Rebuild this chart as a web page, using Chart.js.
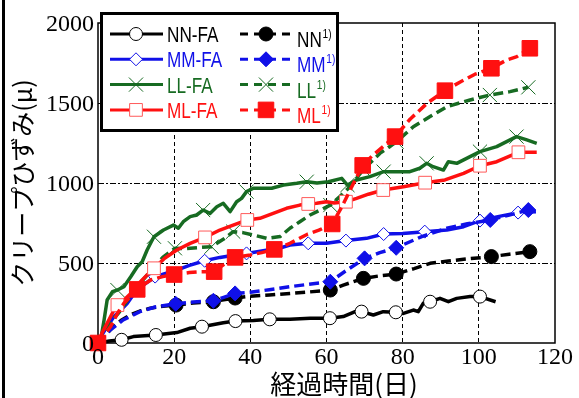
<!DOCTYPE html>
<html>
<head>
<meta charset="utf-8">
<script src="https://cdn.jsdelivr.net/npm/chart.js@4.4.1/dist/chart.umd.min.js"></script>
<style>
  html, body { margin: 0; padding: 0; background: #fff; }
</style>
</head>
<body>
<canvas id="creepChart" width="579" height="398"></canvas>
<script>
// axis ticks and titles
const xTicks = [0, 20, 40, 60, 80, 100, 120];
const yTicks = [0, 500, 1000, 1500, 2000];
const xTitle = '経過時間(日)';
const yTitle = 'クリープひずみ(μ)';

// NN-FA (solid, open circles)
const nnFaDays = [0, 3, 6.2, 9.3, 15.2, 20.7, 24.2, 27.3, 32.9, 36.1, 40.8, 45.1, 50.4, 55.7, 60.9, 64.4, 67.5, 69.2, 72.3, 74.9, 78.2, 80.2, 82.8, 84.1, 85.4, 87.2, 89.8, 92, 94.2, 97.7, 100.3, 104.4];
const nnFaVals = [0, 12, 20, 40, 50, 65, 92, 102, 127, 137, 140, 148, 148, 154, 155, 165, 196, 196, 175, 196, 192, 185, 206, 196, 248, 258, 279, 258, 279, 290, 290, 258];
const nnFaMarks = [2, 4, 7, 9, 11, 14, 17, 20, 25, 30];

// NN 1) (dashed, filled circles)
const nnDays = [0, 2, 4, 6, 8.4, 11, 13.7, 17, 20.5, 25, 30.3, 33, 36, 40, 45, 50.4, 55, 61, 64.4, 69.7, 74, 78.3, 83, 87.2, 92, 96, 103.3, 108, 113.4];
const nnVals = [0, 50, 102, 140, 175, 200, 217, 230, 237, 250, 258, 270, 281, 292, 300, 310, 318, 331, 362, 404, 420, 431, 465, 498, 512, 523, 540, 555, 571];
const nnMarks = [8, 10, 12, 17, 19, 21, 26, 28];

// MM-FA (solid, open diamonds)
const mmFaDays = [0, 1, 2.4, 4.2, 6, 7.7, 9.5, 11.2, 13.8, 15, 20.7, 24, 28, 32, 36, 39, 43, 48, 50.4, 55.2, 60, 65.1, 70.5, 75, 80, 85.8, 91.6, 96, 100.3, 105, 110.3, 115];
const mmFaVals = [0, 50, 102, 165, 206, 248, 310, 352, 394, 415, 456, 485, 514, 535, 550, 560, 575, 595, 612, 623, 623, 640, 654, 681, 685, 696, 706, 727, 765, 790, 815, 821];
const mmFaMarks = [9, 12, 15, 19, 21, 23, 25, 28, 30];

// MM 1) (dashed, filled diamonds)
const mmDays = [0, 1.5, 3.2, 6.6, 11, 15, 20.4, 25, 30.3, 33, 36, 40, 45, 50.4, 55, 61, 65, 70, 74, 78.3, 85, 91.6, 97, 103, 108, 113];
const mmVals = [0, 40, 81, 144, 196, 225, 245, 256, 264, 285, 310, 317, 333, 352, 366, 383, 450, 529, 565, 595, 665, 717, 745, 769, 800, 831];
const mmMarks = [6, 8, 10, 15, 17, 19, 23, 25];

// LL-FA (solid, x marks)
const llFaDays = [0, 0.7, 1.6, 2.4, 3.8, 5.1, 6.8, 8.6, 10.3, 11.6, 12.9, 13.8, 14.7, 17.2, 19.8, 21.1, 22.4, 24.2, 25.9, 27.6, 29.4, 31.2, 32.9, 34.7, 36.4, 37.7, 39, 40.8, 45.6, 48.7, 52.2, 54.8, 57.5, 60.5, 64, 65.5, 67.9, 71.4, 75, 78.4, 81.9, 84.5, 86.3, 88, 90.7, 92, 94.2, 97.7, 100.3, 104.7, 109.9, 112.6, 115.2];
const llFaVals = [0, 19, 144, 269, 321, 331, 352, 414, 477, 508, 581, 623, 664, 706, 737, 717, 758, 790, 800, 831, 810, 852, 873, 821, 883, 904, 946, 967, 967, 987, 998, 1008, 1000, 1008, 1029, 987, 1019, 1040, 1071, 1071, 1071, 1092, 1123, 1102, 1081, 1133, 1123, 1165, 1196, 1227, 1290, 1269, 1248];
const llFaMarks = [5, 12, 19, 26, 31, 35, 38, 42, 48, 50];

// LL 1) (dashed, x marks)
const llDays = [0, 2.4, 3.8, 5.5, 7.5, 9.5, 12, 14.5, 17, 20.2, 23, 26, 29.8, 33, 35.5, 38, 40.8, 44.3, 47.8, 50.4, 53, 55.7, 61, 63.5, 66.2, 69.7, 74, 78.4, 82.8, 87.2, 91.6, 97.7, 102.9, 108.2, 113];
const llVals = [0, 81, 144, 190, 260, 330, 400, 470, 535, 592, 590, 596, 602, 650, 696, 690, 675, 654, 665, 717, 758, 800, 862, 915, 977, 1085, 1185, 1258, 1352, 1415, 1477, 1519, 1550, 1571, 1598];
const llMarks = [9, 12, 14, 22, 25, 27, 32, 34];

// ML-FA (solid, open squares)
const mlFaDays = [0, 1, 2.4, 4.2, 5.1, 6.8, 8.6, 10.3, 12.9, 14.7, 17.5, 20.7, 24.2, 28.1, 32, 35.5, 39.2, 42.5, 46, 49.5, 53, 55.2, 57.4, 60, 62, 65.1, 67.9, 71, 74.9, 80.2, 85.9, 91.1, 96, 100.3, 104.7, 110.4, 115.2];
const mlFaVals = [0, 60, 123, 206, 237, 269, 310, 362, 425, 467, 530, 581, 623, 660, 706, 737, 769, 779, 810, 842, 862, 869, 873, 883, 875, 883, 904, 930, 956, 977, 1002, 1019, 1060, 1108, 1133, 1192, 1192];
const mlFaMarks = [4, 9, 13, 16, 21, 25, 28, 30, 33, 35];

// ML 1) (dashed, filled squares)
const mlDays = [0, 3.3, 5.1, 6.8, 8.6, 10.3, 13.8, 17, 20, 24, 27, 30.5, 33, 36, 40, 43, 46.3, 50.4, 55, 58, 61.5, 64, 66.5, 69.5, 72, 75, 78, 82, 86.5, 91.1, 95, 99, 103.3, 107.3, 110, 113.4];
const mlVals = [0, 102, 185, 248, 290, 335, 394, 415, 428, 440, 445, 446, 490, 535, 550, 565, 585, 623, 680, 705, 744, 850, 970, 1110, 1170, 1230, 1290, 1400, 1500, 1577, 1630, 1680, 1717, 1769, 1790, 1842];
const mlMarks = [0, 5, 8, 11, 13, 16, 20, 23, 26, 29, 32, 35];

const BLACK = '#000000';
const BLUE = '#1010e8';
const GREEN = '#176b22';
const RED = '#ff1010';
const DASH = [10, 5];
const SERIF = '"Liberation Serif", "Times New Roman", serif';
const GOTHIC = '"Noto Sans CJK JP", sans-serif';

function pts(days, vals) {
    return days.map((d, i) => ({ x: d, y: vals[i] }));
}

function series(label, days, vals, marks, o) {
    return {
        label: label,
        data: pts(days, vals),
        marks: marks,
        markR: o.r,
        borderColor: o.color,
        backgroundColor: o.color,
        borderWidth: 3.5,
        borderDash: o.dash ? DASH : [],
        borderJoinStyle: 'round',
        borderCapStyle: 'butt',
        tension: 0,
        pointStyle: o.style,
        pointBackgroundColor: o.fill,
        pointBorderColor: o.stroke || o.color,
        pointBorderWidth: o.pw || 1,
        pointRadius: c => c.dataset.marks.includes(c.dataIndex) ? c.dataset.markR : 0,
        pointHoverRadius: 0,
        clip: false,
        row: o.row,
        col: o.dash ? 1 : 0,
        sup: o.dash,
    };
}

// first in the list is drawn on top
const datasets = [
    series('ML', mlDays, mlVals, mlMarks, { color: RED, fill: RED, style: 'rect', r: 11, dash: true, row: 3 }),
    series('ML-FA', mlFaDays, mlFaVals, mlFaMarks, { color: RED, fill: '#ffffff', stroke: '#ff5a5a', style: 'rect', r: 9, row: 3 }),
    series('LL', llDays, llVals, llMarks, { color: GREEN, fill: GREEN, style: 'crossRot', r: 10, dash: true, row: 2 }),
    series('LL-FA', llFaDays, llFaVals, llFaMarks, { color: GREEN, fill: GREEN, style: 'crossRot', r: 10, row: 2 }),
    series('MM', mmDays, mmVals, mmMarks, { color: BLUE, fill: BLUE, style: 'rectRot', r: 7.5, dash: true, row: 1 }),
    series('MM-FA', mmFaDays, mmFaVals, mmFaMarks, { color: BLUE, fill: '#ffffff', style: 'rectRot', r: 6.5, row: 1 }),
    series('NN', nnDays, nnVals, nnMarks, { color: BLACK, fill: BLACK, style: 'circle', r: 7, dash: true, row: 0 }),
    series('NN-FA', nnFaDays, nnFaVals, nnFaMarks, { color: BLACK, fill: '#ffffff', style: 'circle', r: 6.5, row: 0 }),
];

function drawMark(ctx, ds, x, y) {
    const r = ds.markR;
    ctx.save();
    ctx.setLineDash([]);
    ctx.fillStyle = ds.pointBackgroundColor;
    ctx.strokeStyle = ds.pointBorderColor;
    ctx.lineWidth = ds.pointBorderWidth;
    ctx.beginPath();
    if (ds.pointStyle === 'circle') {
        ctx.arc(x, y, r, 0, Math.PI * 2);
        ctx.fill(); ctx.stroke();
    } else if (ds.pointStyle === 'rect') {
        const s = r * Math.SQRT1_2;
        ctx.rect(x - s, y - s, 2 * s, 2 * s);
        ctx.fill(); ctx.stroke();
    } else if (ds.pointStyle === 'rectRot') {
        ctx.moveTo(x, y - r); ctx.lineTo(x + r, y); ctx.lineTo(x, y + r); ctx.lineTo(x - r, y);
        ctx.closePath();
        ctx.fill(); ctx.stroke();
    } else {
        const s = r * Math.SQRT1_2;
        ctx.moveTo(x - s, y - s); ctx.lineTo(x + s, y + s);
        ctx.moveTo(x + s, y - s); ctx.lineTo(x - s, y + s);
        ctx.stroke();
    }
    ctx.restore();
}

const framePlugin = {
    id: 'frame',
    beforeDatasetsDraw(chart) {
        const { ctx, chartArea: a } = chart;
        ctx.save();
        ctx.strokeStyle = '#000';
        ctx.lineWidth = 1.5;
        ctx.strokeRect(a.left, a.top, a.right - a.left, a.bottom - a.top);
        ctx.restore();
    },
    afterDraw(chart) {
        const ctx = chart.ctx;
        const a = chart.chartArea;
        const sx = chart.scales.x;
        const sy = chart.scales.y;
        ctx.save();

        // tick labels (serif, placed by the scales)
        ctx.fillStyle = '#000';
        ctx.font = '24px ' + SERIF;
        ctx.textBaseline = 'alphabetic';
        ctx.textAlign = 'center';
        xTicks.forEach(v => ctx.fillText(String(v), sx.getPixelForValue(v), a.bottom + 21));
        ctx.textAlign = 'right';
        yTicks.forEach(v => ctx.fillText(String(v), a.left - 4, sy.getPixelForValue(v) + 8));

        // axis titles
        ctx.font = '26px ' + GOTHIC;
        ctx.textAlign = 'center';
        ctx.textBaseline = 'middle';
        ctx.fillText(xTitle, 344, 384);
        ctx.save();
        ctx.translate(22, (a.top + a.bottom) / 2);
        ctx.rotate(-Math.PI / 2);
        ctx.font = '25px ' + GOTHIC;
        ctx.fillText(yTitle, 0, 0);
        ctx.restore();

        // left edge rule of the figure
        ctx.fillRect(2, 0, 3, chart.height);

        // legend box
        ctx.fillStyle = '#fff';
        ctx.fillRect(101, 13, 237, 118);
        ctx.strokeStyle = '#000';
        ctx.lineWidth = 3;
        ctx.strokeRect(101.5, 13.5, 236, 117);

        chart.data.datasets.forEach(ds => {
            const y = 34 + ds.row * 25.3;
            const x0 = ds.col ? 240 : 110;
            ctx.strokeStyle = ds.borderColor;
            ctx.lineWidth = 3;
            ctx.setLineDash(ds.col ? [8, 6] : []);
            ctx.beginPath();
            ctx.moveTo(x0, y);
            ctx.lineTo(x0 + 53, y);
            ctx.stroke();
            ctx.setLineDash([]);
            drawMark(ctx, ds, x0 + 26, y);

            ctx.fillStyle = ds.borderColor;
            ctx.textAlign = 'left';
            ctx.textBaseline = 'alphabetic';
            ctx.font = '22px "Liberation Sans", Arial, sans-serif';
            const tx = x0 + 57;
            const ty = ds.col ? y + 13 : y + 8;
            ctx.save();
            ctx.translate(tx, ty);
            ctx.scale(0.78, 1);
            ctx.fillText(ds.label, 0, 0);
            const w = ctx.measureText(ds.label).width;
            if (ds.sup) {
                ctx.font = '13px "Liberation Sans", Arial, sans-serif';
                ctx.fillText('1)', w + 1, -9);
            }
            ctx.restore();
        });
        ctx.restore();
    }
};

new Chart(document.getElementById('creepChart'), {
    type: 'line',
    data: { datasets: datasets },
    options: {
        responsive: false,
        animation: false,
        events: [],
        layout: { padding: { top: 23, right: 24, left: 0, bottom: 0 } },
        plugins: { legend: { display: false }, tooltip: { enabled: false } },
        scales: {
            x: {
                type: 'linear',
                min: 0,
                max: 120,
                afterBuildTicks: s => { s.ticks = xTicks.map(v => ({ value: v })); },
                afterFit: s => { s.height = 55; },
                ticks: { display: false },
                grid: {
                    color: c => (c.tick && (c.tick.value === 0 || c.tick.value === 120)) ? 'rgba(0,0,0,0)' : '#000',
                    lineWidth: 1,
                    drawTicks: false,
                },
                border: { display: false, dash: [4, 3] },
            },
            y: {
                type: 'linear',
                min: 0,
                max: 2000,
                afterBuildTicks: s => { s.ticks = yTicks.map(v => ({ value: v })); },
                afterFit: s => { s.width = 98; },
                ticks: { display: false },
                grid: {
                    color: c => (c.tick && (c.tick.value === 0 || c.tick.value === 2000)) ? 'rgba(0,0,0,0)' : '#000',
                    lineWidth: 1,
                    drawTicks: false,
                },
                border: { display: false, dash: [6, 2, 2, 2] },
            },
        },
    },
    plugins: [framePlugin],
});
</script>
</body>
</html>
